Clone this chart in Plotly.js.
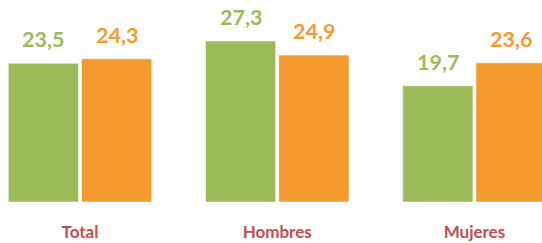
<!DOCTYPE html>
<html>
<head>
<meta charset="utf-8">
<script src="https://cdn.plot.ly/plotly-3.0.1.min.js"></script>
<style>html,body{margin:0;padding:0;background:#fff;}#chart{width:542px;height:243px;}</style>
</head>
<body>
<div id="chart"></div>
<script>
var categories = ["Total", "Hombres", "Mujeres"];
var seriesA = [23.5, 27.3, 19.7];
var seriesB = [24.3, 24.9, 23.6];

var green = "#9BBB59";
var orange = "#F59A2F";
var bargap = 0.257;
var catIdx = categories.map(function (c, i) { return i; });
function fmt(v) { return v.toFixed(1).replace(".", ","); }

var traces = [
  { type: "bar", x: catIdx, y: seriesA, marker: { color: green, line: { color: "rgba(255,255,255,0.55)", width: 1 } }, hoverinfo: "none" },
  { type: "bar", x: catIdx, y: seriesB, marker: { color: orange, line: { color: "rgba(255,255,255,0.55)", width: 1 } }, hoverinfo: "none" }
];

var off = (1 - bargap) / 4;
var annotations = [];
[[seriesA, green, -off], [seriesB, orange, off]].forEach(function (s) {
  s[0].forEach(function (v, i) {
    annotations.push({
      x: i + s[2], y: v, xref: "x", yref: "y", text: "<b>" + fmt(v) + "</b>", showarrow: false,
      yanchor: "bottom", yshift: 9,
      font: { family: "Lato", size: 21.5, color: s[1] }
    });
  });
});

var layout = {
  width: 542, height: 243,
  margin: { l: 0, r: 0, t: 0, b: 41, pad: 0 },
  paper_bgcolor: "#fff", plot_bgcolor: "#fff",
  barmode: "group", bargap: bargap, bargroupgap: 0.041,
  showlegend: false,
  xaxis: {
    range: [-0.4057, 2.3428], tickmode: "array", tickvals: catIdx,
    ticktext: categories.map(function (c) { return "<b>" + c + "</b>"; }),
    showgrid: false, zeroline: false, showline: false, ticks: "",
    ticklabelstandoff: 18,
    tickfont: { family: "Lato", size: 17, color: "#C0504D" }
  },
  yaxis: { range: [0, 34.24], visible: false, showgrid: false, zeroline: false },
  annotations: annotations
};

Plotly.newPlot("chart", traces, layout, { displayModeBar: false, staticPlot: true });
</script>
</body>
</html>
